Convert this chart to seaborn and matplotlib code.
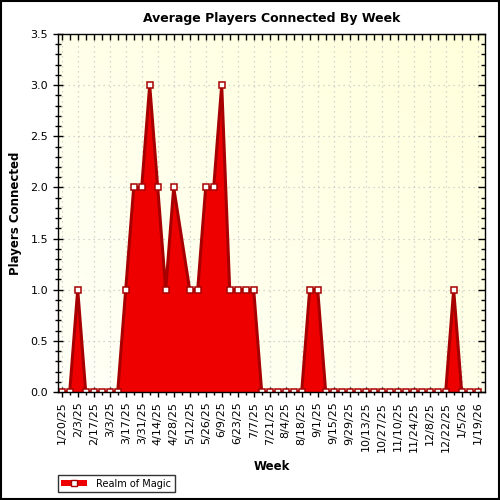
import numpy as np
import pandas as pd
import matplotlib
matplotlib.use("Agg")
import matplotlib.pyplot as plt
import matplotlib.dates as mdates
from matplotlib.ticker import MultipleLocator
from matplotlib.patches import Rectangle, Patch
from matplotlib.lines import Line2D
import seaborn as sns

weeks = [
    "2025-01-20", "2025-01-27", "2025-02-03", "2025-02-10", "2025-02-17", "2025-02-24",
    "2025-03-03", "2025-03-10", "2025-03-17", "2025-03-24", "2025-03-31", "2025-04-07",
    "2025-04-14", "2025-04-21", "2025-04-28", "2025-05-12", "2025-05-19",
    "2025-05-26", "2025-06-02", "2025-06-09", "2025-06-16", "2025-06-23", "2025-06-30",
    "2025-07-07", "2025-07-14", "2025-07-21", "2025-07-28", "2025-08-04", "2025-08-11",
    "2025-08-18", "2025-08-25", "2025-09-01", "2025-09-08", "2025-09-15", "2025-09-22",
    "2025-09-29", "2025-10-06", "2025-10-13", "2025-10-20", "2025-10-27", "2025-11-03",
    "2025-11-10", "2025-11-17", "2025-11-24", "2025-12-01", "2025-12-08", "2025-12-15",
    "2025-12-22", "2025-12-29", "2026-01-05", "2026-01-12", "2026-01-19",
]
players = [
    0, 0, 1, 0, 0, 0,
    0, 0, 1, 2, 2, 3,
    2, 1, 2, 1, 1,
    2, 2, 3, 1, 1, 1,
    1, 0, 0, 0, 0, 0,
    0, 1, 1, 0, 0, 0,
    0, 0, 0, 0, 0, 0,
    0, 0, 0, 0, 0, 0,
    0, 1, 0, 0, 0,
]
series_name = "Realm of Magic"
title = "Average Players Connected By Week"

df = pd.DataFrame({"week": pd.to_datetime(weeks), "players": players})

sns.set_theme(style="white")
plt.rcParams["font.family"] = ["DejaVu Sans"]
plt.rcParams["text.color"] = "black"
plt.rcParams["axes.labelcolor"] = "black"

fig = plt.figure(figsize=(5, 5), dpi=100)
ax = fig.add_axes([0.116, 0.216, 0.854, 0.716])

# background gradient (white lower-left to light yellow upper-right)
gx, gy = np.meshgrid(np.linspace(0, 1, 200), np.linspace(0, 1, 200))
g = (gx + gy) / 2
c0 = np.array([1.0, 1.0, 0.97])
c1 = np.array([1.0, 1.0, 0.86])
img = c0[None, None, :] * (1 - g[..., None]) + c1[None, None, :] * g[..., None]
ax.imshow(img, extent=[0, 1, 0, 1], transform=ax.transAxes, origin="lower",
          aspect="auto", zorder=0)

ax.fill_between(df["week"], df["players"], 0, color="#EE0000", lw=0, zorder=2)
sns.lineplot(data=df, x="week", y="players", ax=ax, color="#A80000", lw=2.2,
             marker="s", markersize=5, markerfacecolor="white",
             markeredgecolor="#A80000", markeredgewidth=1.1, zorder=3)

xmin, xmax = pd.Timestamp("2025-01-16 18:00"), pd.Timestamp("2026-01-25 10:00")
ax.set_xlim(xmin, xmax)
ax.set_ylim(0, 3.5)

ax.xaxis.set_major_locator(mdates.WeekdayLocator(byweekday=mdates.MO, interval=2))
ax.xaxis.set_minor_locator(mdates.WeekdayLocator(byweekday=mdates.MO, interval=1))
ax.xaxis.set_major_formatter(mdates.DateFormatter("%-m/%-d/%y"))
ax.yaxis.set_major_locator(MultipleLocator(0.5))
ax.yaxis.set_minor_locator(MultipleLocator(0.1))
ax.yaxis.set_major_formatter(matplotlib.ticker.FormatStrFormatter("%.1f"))

ax.grid(True, which="major", color="#C8C8C8", linestyle=(0, (1, 3)), lw=0.9)
for gl in ax.get_xgridlines() + ax.get_ygridlines():
    gl.set_zorder(1)

ax.tick_params(axis="both", which="both", direction="inout", colors="black",
               labelsize=8, top=False, right=False)
ax.tick_params(axis="both", which="major", length=7, width=1)
ax.tick_params(axis="both", which="minor", length=5, width=1)
for lbl in ax.get_xticklabels():
    lbl.set_rotation(90)
for sp in ax.spines.values():
    sp.set_color("black")
    sp.set_linewidth(1)
    sp.set_zorder(5)

# inward ticks on top and right
axt = ax.twiny()
axt.xaxis_date()
axt.set_xlim(ax.get_xlim())
axt.xaxis.set_major_locator(mdates.WeekdayLocator(byweekday=mdates.MO, interval=1))
axt.tick_params(axis="x", which="both", direction="in", length=4, width=1,
                colors="black", labeltop=False, top=True, bottom=False)
axr = ax.twinx()
axr.set_ylim(0, 3.5)
axr.yaxis.set_major_locator(MultipleLocator(0.5))
axr.yaxis.set_minor_locator(MultipleLocator(0.1))
axr.tick_params(axis="y", which="major", direction="in", length=5, width=1,
                colors="black", labelright=False, right=True, left=False)
axr.tick_params(axis="y", which="minor", direction="in", length=3, width=1,
                colors="black", right=True, left=False)
for a in (axt, axr):
    a.grid(False)
    for sp in a.spines.values():
        sp.set_visible(False)

ax.set_title(title, fontsize=9, fontweight="bold", pad=9, color="black")
ax.set_xlabel("Week", fontsize=8.5, fontweight="bold", labelpad=6)
ax.set_ylabel("Players Connected", fontsize=8.5, fontweight="bold", labelpad=6)

handle = (Patch(facecolor="#EE0000", edgecolor="#A80000", lw=0),
          Line2D([], [], color="#A80000", marker="s", markersize=5,
                 markerfacecolor="white", markeredgecolor="#A80000", lw=0))
leg = fig.legend([handle], [series_name], loc="lower left",
                 bbox_to_anchor=(0.116, 0.016), borderaxespad=0, fontsize=7,
                 frameon=True, fancybox=False, edgecolor="black", borderpad=0.35,
                 handlelength=2.6, handleheight=0.6, handletextpad=1.0)
leg.get_frame().set_linewidth(1)

fig.patches.append(Rectangle((0.002, 0.002), 0.996, 0.996, transform=fig.transFigure,
                             fill=False, edgecolor="black", lw=1.5))
fig.patch.set_facecolor("white")
fig.savefig("out.png", dpi=100)
